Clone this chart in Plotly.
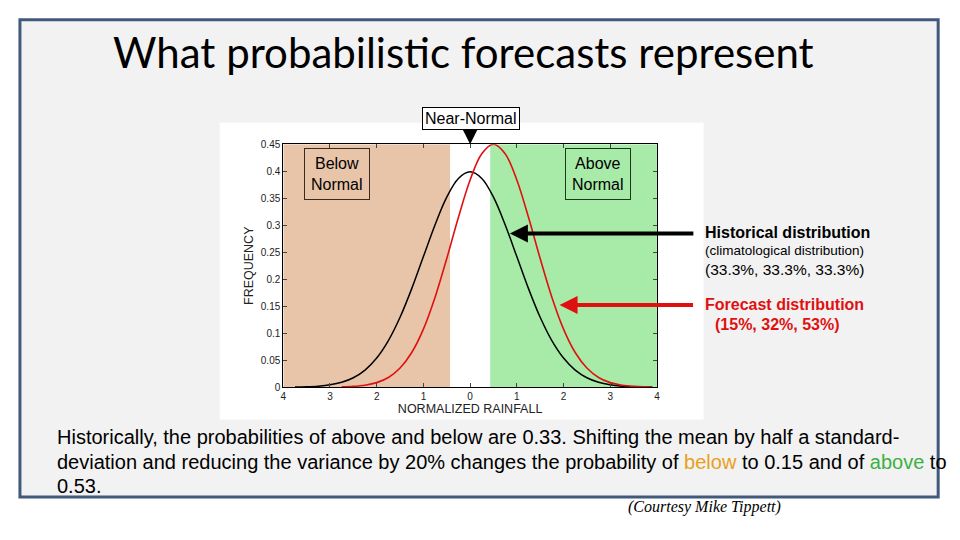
import plotly.graph_objects as go

# ---- data ----
hist_x = [-3.75, -3.5, -3.25, -3.0, -2.75, -2.5, -2.25, -2.0, -1.75, -1.5, -1.25, -1.0, -0.75, -0.5, -0.25,
          0.0, 0.25, 0.5, 0.75, 1.0, 1.25, 1.5, 1.75, 2.0, 2.25, 2.5, 2.75, 3.0, 3.25, 3.5, 3.75, 3.9]
hist_y = [0.0004, 0.0009, 0.002, 0.0044, 0.0091, 0.0175, 0.0317, 0.054, 0.0863, 0.1295, 0.1826, 0.242, 0.3011, 0.3521, 0.3867,
          0.3989, 0.3867, 0.3521, 0.3011, 0.242, 0.1826, 0.1295, 0.0863, 0.054, 0.0317, 0.0175, 0.0091, 0.0044, 0.002, 0.0009, 0.0004, 0.0002]
fcst_x = [-2.75, -2.5, -2.25, -2.0, -1.75, -1.5, -1.25, -1.0, -0.75, -0.5, -0.25, 0.0, 0.25, 0.5,
          0.75, 1.0, 1.25, 1.5, 1.75, 2.0, 2.25, 2.5, 2.75, 3.0, 3.25, 3.5, 3.75, 3.9]
fcst_y = [0.0006, 0.0015, 0.0037, 0.0085, 0.018, 0.0355, 0.0643, 0.1077, 0.1668, 0.2384, 0.3148, 0.3839, 0.4325, 0.45,
          0.4325, 0.3839, 0.3148, 0.2384, 0.1668, 0.1077, 0.0643, 0.0355, 0.018, 0.0085, 0.0037, 0.0015, 0.0006, 0.0003]
below_bounds = [-4.0, -0.43]
above_bounds = [0.43, 4.0]
x_ticks = [-4, -3, -2, -1, 0, 1, 2, 3, 4]
x_tick_text = ["4", "3", "2", "1", "0", "1", "2", "3", "4"]
y_ticks = [0, 0.05, 0.1, 0.15, 0.2, 0.25, 0.3, 0.35, 0.4, 0.45]
y_tick_text = ["0", "0.05", "0.1", "0.15", "0.2", "0.25", "0.3", "0.35", "0.4", "0.45"]

W, H = 960, 540
OFF = 8  # page offset of the figure inside the browser window
def px(x): return (x - OFF) / W
def py(y): return 1 - (y - OFF) / H

fig = go.Figure()
fig.add_trace(go.Scatter(x=hist_x, y=hist_y, mode="lines", line=dict(color="black", width=1.5, shape="spline"),
                         showlegend=False, hoverinfo="skip"))
fig.add_trace(go.Scatter(x=fcst_x, y=fcst_y, mode="lines", line=dict(color="#e01010", width=1.6, shape="spline"),
                         showlegend=False, hoverinfo="skip"))

shapes = [
    dict(type="rect", xref="paper", yref="paper", x0=px(17), x1=px(941), y0=py(502), y1=py(15),
         fillcolor="#f2f2f2", line=dict(color="#41597c", width=3), layer="below"),
    dict(type="rect", xref="paper", yref="paper", x0=px(218), x1=px(705), y0=py(423), y1=py(120),
         fillcolor="white", line=dict(width=0), layer="below"),
    dict(type="rect", xref="x", yref="y", x0=below_bounds[0], x1=below_bounds[1], y0=0, y1=0.45,
         fillcolor="#e8c4a8", line=dict(width=0), layer="below"),
    dict(type="rect", xref="x", yref="y", x0=above_bounds[0], x1=above_bounds[1], y0=0, y1=0.45,
         fillcolor="#a8eaa8", line=dict(width=0), layer="below"),
]

SANS = "Liberation Sans, Arial"
ann = []
ann.append(dict(text="What probabilistic forecasts represent", x=px(463), y=py(48), xref="paper", yref="paper",
                showarrow=False, font=dict(family="Lato", size=42, color="black"), xanchor="center", yanchor="middle"))
ann.append(dict(text="Near-Normal", x=px(471), y=py(116), xref="paper", yref="paper", showarrow=False,
                font=dict(family=SANS, size=16, color="black"), bgcolor="white", bordercolor="black",
                borderwidth=1, borderpad=2, xanchor="center", yanchor="middle"))
ann.append(dict(text="", x=0, y=0.45, xref="x", yref="y", ax=0, ay=-13, showarrow=True,
                arrowhead=2, arrowsize=1.3, arrowwidth=2.2, arrowcolor="black"))
ann.append(dict(text="Below<br>Normal", x=px(336), y=py(172), xref="paper", yref="paper", showarrow=False,
                font=dict(family=SANS, size=16, color="black"), bordercolor="#3a2a20", borderwidth=1,
                borderpad=6, xanchor="center", yanchor="middle"))
ann.append(dict(text="Above<br>Normal", x=px(599), y=py(172), xref="paper", yref="paper", showarrow=False,
                font=dict(family=SANS, size=16, color="black"), bordercolor="#1a3a1a", borderwidth=1,
                borderpad=6, xanchor="center", yanchor="middle"))
ann.append(dict(text="", x=px(510), y=py(233), xref="paper", yref="paper", ax=185, ay=0, showarrow=True,
                arrowhead=2, arrowsize=0.9, arrowwidth=4, arrowcolor="black"))
ann.append(dict(text="", x=px(560), y=py(306), xref="paper", yref="paper", ax=135, ay=0, showarrow=True,
                arrowhead=2, arrowsize=0.9, arrowwidth=4, arrowcolor="#e01010"))
ann.append(dict(text="<b>Historical distribution</b>", x=px(704), y=py(232), xref="paper", yref="paper", showarrow=False,
                font=dict(family=SANS, size=16, color="black"), xanchor="left", yanchor="middle"))
ann.append(dict(text="(climatological distribution)", x=px(704), y=py(250), xref="paper", yref="paper", showarrow=False,
                font=dict(family=SANS, size=13.5, color="black"), xanchor="left", yanchor="middle"))
ann.append(dict(text="(33.3%, 33.3%, 33.3%)", x=px(704), y=py(270), xref="paper", yref="paper", showarrow=False,
                font=dict(family=SANS, size=15.5, color="black"), xanchor="left", yanchor="middle"))
ann.append(dict(text="<b>Forecast distribution</b>", x=px(704), y=py(306), xref="paper", yref="paper", showarrow=False,
                font=dict(family=SANS, size=16, color="#e01010"), xanchor="left", yanchor="middle"))
ann.append(dict(text="<b>(15%, 32%, 53%)</b>", x=px(714), y=py(326), xref="paper", yref="paper", showarrow=False,
                font=dict(family=SANS, size=16, color="#e01010"), xanchor="left", yanchor="middle"))
lines = [
    "Historically, the probabilities of above and below are 0.33. Shifting the mean by half a standard-",
    "deviation and reducing the variance by 20% changes the probability of <span style='color:#e8a020'>below</span> to 0.15 and of <span style='color:#3cb043'>above</span> to",
    "0.53.",
]
for i, t in enumerate(lines):
    ann.append(dict(text=t, x=px(52), y=py(441 + i * 25), xref="paper", yref="paper", showarrow=False,
                    font=dict(family=SANS, size=20, color="black"), xanchor="left", yanchor="middle"))
ann.append(dict(text="<i>(Courtesy Mike Tippett)</i>", x=px(706), y=py(512), xref="paper", yref="paper", showarrow=False,
                font=dict(family="Liberation Serif", size=16, color="black"), xanchor="center", yanchor="middle"))

fig.update_layout(
    width=W, height=H, margin=dict(l=0, r=0, t=0, b=0),
    paper_bgcolor="white", plot_bgcolor="white",
    shapes=shapes, annotations=ann, showlegend=False,
    xaxis=dict(domain=[px(282), px(658)], range=[-4, 4], tickvals=x_ticks, ticktext=x_tick_text,
               showline=True, linecolor="black", linewidth=1, mirror="ticks", ticks="inside", ticklen=4,
               showgrid=False, zeroline=False, tickfont=dict(family=SANS, size=10, color="#222"),
               title=dict(text="NORMALIZED RAINFALL", font=dict(family=SANS, size=12.5, color="#222"),
                          standoff=0)),
    yaxis=dict(domain=[py(390), py(142)], range=[0, 0.45], tickvals=y_ticks, ticktext=y_tick_text,
               showline=True, linecolor="black", linewidth=1, mirror="ticks", ticks="inside", ticklen=4,
               showgrid=False, zeroline=False, tickfont=dict(family=SANS, size=10, color="#222"),
               title=dict(text="FREQUENCY", font=dict(family=SANS, size=12.5, color="#222"),
                          standoff=4)),
)

fig.write_html("out.html")
